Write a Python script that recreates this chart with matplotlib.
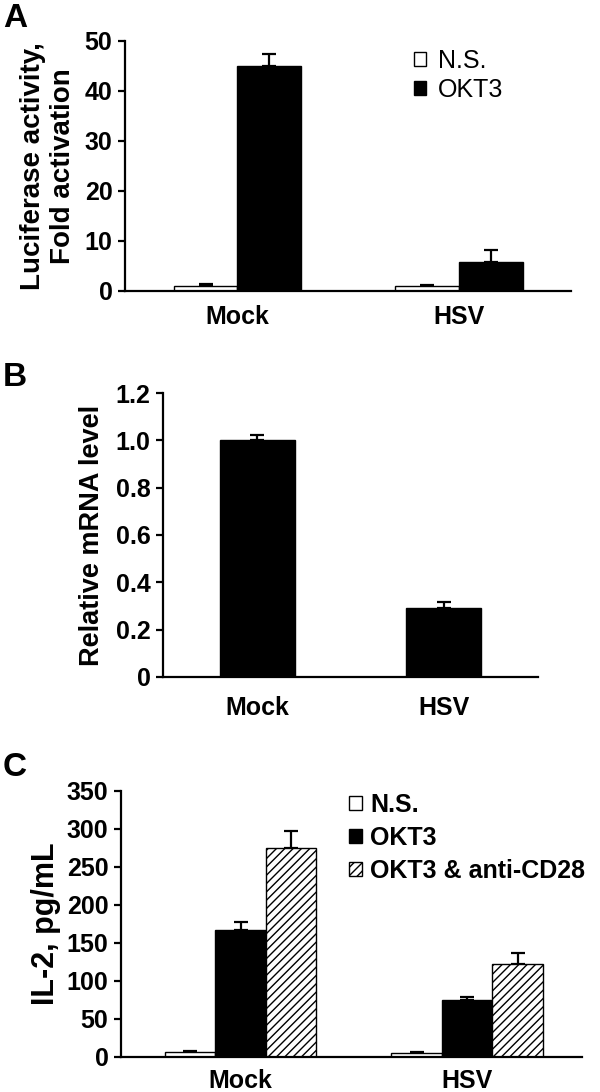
import matplotlib
matplotlib.use("Agg")
import matplotlib.pyplot as plt
import numpy as np

plt.rcParams["font.family"] = ["Liberation Sans", "DejaVu Sans"]
plt.rcParams["font.weight"] = "bold"
plt.rcParams["hatch.linewidth"] = 1.0

# ---------------------------------------------------------------------------
# Data
# ---------------------------------------------------------------------------
groups = ["Mock", "HSV"]

# Panel A - luciferase fold activation
a_ns = [1.0, 1.0]
a_ns_err = [0.33, 0.12]
a_okt3 = [45.0, 5.8]
a_okt3_err = [2.3, 2.3]

# Panel B - relative mRNA level
b_vals = [1.0, 0.29]
b_err = [0.021, 0.027]
b_ticks = [0, 0.2, 0.4, 0.6, 0.8, 1.0, 1.2]
b_ticklabels = ["0", "0.2", "0.4", "0.6", "0.8", "1.0", "1.2"]

# Panel C - IL-2
c_ns = [7.0, 5.2]
c_ns_err = [1.3, 1.8]
c_okt3 = [166.5, 74.5]
c_okt3_err = [11.0, 4.5]
c_combo = [275.5, 122.0]
c_combo_err = [22.0, 14.4]

W, H = 600, 1092
LW = 1.6
TICK_FS = 18


def rect(left, right, top, bottom):
    # pixel box -> figure fraction
    return [left / W, 1 - bottom / H, (right - left) / W, (bottom - top) / H]


def style(ax, xpad):
    for s in ["top", "right"]:
        ax.spines[s].set_visible(False)
    for s in ["left", "bottom"]:
        ax.spines[s].set_linewidth(LW)
    ax.tick_params(axis="y", direction="out", length=5, width=LW, pad=4,
                   labelsize=TICK_FS)
    ax.tick_params(axis="x", length=0, pad=xpad, labelsize=TICK_FS)
    for lab in ax.get_xticklabels() + ax.get_yticklabels():
        lab.set_fontweight("bold")


def bars(ax, x, vals, errs, width, **kw):
    ax.bar(x, vals, width, edgecolor="black", linewidth=1.0, zorder=2, **kw)
    ax.errorbar(x, vals, yerr=[np.zeros(len(vals)), errs], fmt="none",
                ecolor="black", elinewidth=LW, capsize=5, capthick=LW, zorder=1)


fig = plt.figure(figsize=(W / 100, H / 100), dpi=100)
x = np.arange(len(groups))

# ---------------------------------------------------------------------------
# Panel A
# ---------------------------------------------------------------------------
ax = fig.add_axes(rect(125, 571, 41, 291))
w = 0.287
bars(ax, x - w / 2, a_ns, a_ns_err, w, color="white", label="N.S.")
bars(ax, x + w / 2, a_okt3, a_okt3_err, w, color="black", label="OKT3")
ax.set_xlim(-0.508, 1.506)
ax.set_ylim(0, 50)
ax.set_yticks([0, 10, 20, 30, 40, 50])
ax.set_xticks(x)
ax.set_xticklabels(groups)
ax.set_ylabel("Luciferase activity,\nFold activation", fontsize=20,
              fontweight="bold", linespacing=1.2, labelpad=6)
style(ax, 10)
ax.legend(loc="upper left", bbox_to_anchor=(414 / W, 1 - 49 / H),
          bbox_transform=fig.transFigure, frameon=False, borderpad=0,
          borderaxespad=0, handlelength=0.5, handleheight=0.5,
          handletextpad=0.45, labelspacing=0.2,
          prop={"size": 18, "weight": "normal"})
fig.text(3 / W, 1 - 3 / H, "A", fontsize=24, fontweight="bold", va="top")

# ---------------------------------------------------------------------------
# Panel B
# ---------------------------------------------------------------------------
ax = fig.add_axes(rect(163, 538, 393, 677))
bars(ax, x, b_vals, b_err, 0.40, color="black")
ax.set_xlim(-0.505, 1.505)
ax.set_ylim(0, 1.2)
ax.set_yticks(b_ticks)
ax.set_yticklabels(b_ticklabels)
ax.set_xticks(x)
ax.set_xticklabels(groups)
ax.set_ylabel("Relative mRNA level", fontsize=19.5, fontweight="bold",
              labelpad=8)
style(ax, 14)
fig.text(3 / W, 1 - 362 / H, "B", fontsize=24, fontweight="bold", va="top")

# ---------------------------------------------------------------------------
# Panel C
# ---------------------------------------------------------------------------
ax = fig.add_axes(rect(121, 582, 791, 1057))
w = 0.223
bars(ax, x - w, c_ns, c_ns_err, w, color="white", label="N.S.")
bars(ax, x, c_okt3, c_okt3_err, w, color="black", label="OKT3")
bars(ax, x + w, c_combo, c_combo_err, w, color="white", hatch="////",
     label="OKT3 & anti-CD28")
ax.set_xlim(-0.528, 1.507)
ax.set_ylim(0, 350)
ax.set_yticks(np.arange(0, 351, 50))
ax.set_xticks(x)
ax.set_xticklabels(groups)
ax.set_ylabel("IL-2, pg/mL", fontsize=22, fontweight="bold", labelpad=4)
style(ax, 9)
ax.legend(loc="upper left", bbox_to_anchor=(349 / W, 1 - 793 / H),
          bbox_transform=fig.transFigure, frameon=False, borderpad=0,
          borderaxespad=0, handlelength=0.5, handleheight=0.5,
          handletextpad=0.35, labelspacing=0.35,
          prop={"size": 18, "weight": "bold"})
fig.text(3 / W, 1 - 752 / H, "C", fontsize=24, fontweight="bold", va="top")

fig.savefig("out.png", dpi=100)
